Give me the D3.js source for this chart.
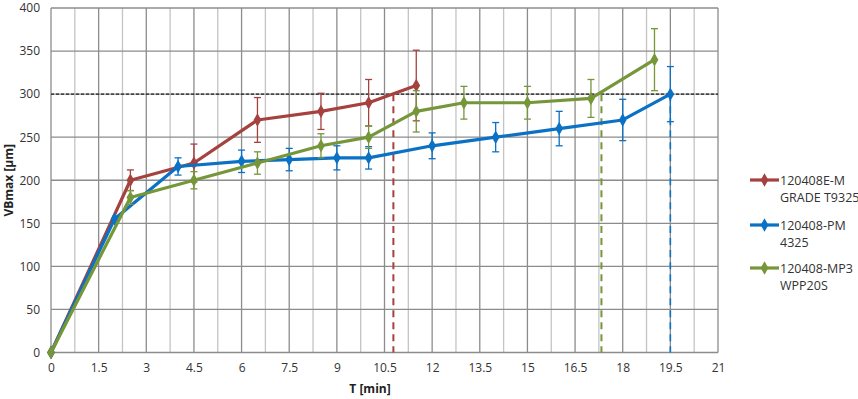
<!DOCTYPE html>
<html lang="en">
<head>
<meta charset="UTF-8">
<title>VBmax vs T</title>
<script src="https://d3js.org/d3.v7.min.js"></script>
<style>
    body { margin: 0; background: #fff; font-family: "Open Sans", Arial, sans-serif; }
    svg { display: block; }
</style>
</head>
<body>
<svg width="858" height="399"></svg>
<script>
// series data: T [min], VBmax [µm], error (±)
const redT   = [0, 2.5, 4.5, 6.5, 8.5, 10, 11.5];
const redVB  = [0, 200, 220, 270, 280, 290, 310];
const redErr = [0, 12, 22, 26, 21, 27, 41];

const blueT   = [0, 2, 4, 6, 7.5, 9, 10, 12, 14, 16, 18, 19.5];
const blueVB  = [0, 155, 216, 222, 224, 226, 226, 240, 250, 260, 270, 300];
const blueErr = [0, 0, 10, 13, 13, 14, 13, 15, 17, 20, 24, 32];

const greenT   = [0, 2.5, 4.5, 6.5, 8.5, 10, 11.5, 13, 15, 17, 19];
const greenVB  = [0, 180, 200, 220, 240, 250, 280, 290, 290, 295, 340];
const greenErr = [0, 8, 10, 13, 14, 13, 24, 19, 19, 22, 36];

const seriesNames = [["120408E-M", "GRADE T9325"], ["120408-PM", "4325"], ["120408-MP3", "WPP20S"]];
const seriesColors = ["#A5413E", "#0A71C4", "#76963A"];
const limitT = [10.78, 19.5, 17.33];   // where each curve reaches the limit
const limitVB = 300;

const xTicks = [0, 1.5, 3, 4.5, 6, 7.5, 9, 10.5, 12, 13.5, 15, 16.5, 18, 19.5, 21];
const yTicks = [0, 50, 100, 150, 200, 250, 300, 350, 400];

const svg = d3.select("svg");
const x = d3.scaleLinear().domain([0, 21]).range([51, 718]);
const y = d3.scaleLinear().domain([0, 400]).range([352.5, 8]);

// grid
const grid = svg.append("g");
d3.range(0, 21.01, 0.75).forEach((t, i) => {
    grid.append("line")
        .attr("x1", x(t)).attr("x2", x(t))
        .attr("y1", y(0)).attr("y2", y(400))
        .attr("stroke", i % 2 === 0 ? "#8c8c8c" : "#c4c4c4")
        .attr("stroke-width", 1.3);
});
yTicks.forEach(v => {
    grid.append("line")
        .attr("x1", x(0)).attr("x2", x(21))
        .attr("y1", y(v)).attr("y2", y(v))
        .attr("stroke", "#8c8c8c")
        .attr("stroke-width", 1.3);
});

// axes (labels only)
const xAxis = svg.append("g")
    .attr("transform", `translate(0,${y(0)})`)
    .call(d3.axisBottom(x).tickValues(xTicks).tickSize(0).tickPadding(11).tickFormat(d3.format("")));
const yAxis = svg.append("g")
    .attr("transform", `translate(${x(0)},0)`)
    .call(d3.axisLeft(y).tickValues(yTicks).tickSize(0).tickPadding(11));
[xAxis, yAxis].forEach(a => {
    a.select(".domain").remove();
    a.selectAll("text").attr("font-size", 12).attr("fill", "#333")
        .attr("font-family", "'Open Sans', Arial, sans-serif");
});

svg.append("text")
    .attr("x", 370).attr("y", 393)
    .attr("text-anchor", "middle")
    .attr("font-size", 12).attr("font-weight", "bold").attr("fill", "#222")
    .text("T [min]");
svg.append("text")
    .attr("transform", `translate(13,${(y(0) + y(400)) / 2}) rotate(-90)`)
    .attr("text-anchor", "middle")
    .attr("font-size", 12).attr("font-weight", "bold").attr("fill", "#222")
    .text("VBmax [µm]");

// limit line
svg.append("line")
    .attr("x1", x(0)).attr("x2", x(21))
    .attr("y1", y(limitVB)).attr("y2", y(limitVB))
    .attr("stroke", "#222").attr("stroke-width", 1.3)
    .attr("stroke-dasharray", "3,2");

// vertical drop lines
limitT.forEach((t, i) => {
    svg.append("line")
        .attr("x1", x(t)).attr("x2", x(t))
        .attr("y1", y(limitVB)).attr("y2", y(0))
        .attr("stroke", seriesColors[i]).attr("stroke-width", i === 1 ? 1.6 : 2)
        .attr("stroke-dasharray", "7,5");
});

const allSeries = [
    { t: redT, vb: redVB, err: redErr },
    { t: blueT, vb: blueVB, err: blueErr },
    { t: greenT, vb: greenVB, err: greenErr }
];
const line = d3.line().x(d => x(d.t)).y(d => y(d.vb));
const diamond = d3.symbol().type(d3.symbolDiamond).size(52);

allSeries.forEach((s, i) => {
    const pts = s.t.map((t, j) => ({ t: t, vb: s.vb[j], err: s.err[j] }));
    const g = svg.append("g");
    g.append("path")
        .datum(pts)
        .attr("d", line)
        .attr("fill", "none")
        .attr("stroke", seriesColors[i])
        .attr("stroke-width", 3.2)
        .attr("stroke-linejoin", "round");
    const eb = g.selectAll("g.err").data(pts.filter(d => d.err > 0)).enter().append("g");
    eb.append("line")
        .attr("x1", d => x(d.t)).attr("x2", d => x(d.t))
        .attr("y1", d => y(d.vb - d.err)).attr("y2", d => y(d.vb + d.err))
        .attr("stroke", seriesColors[i]).attr("stroke-width", 1.3);
    [-1, 1].forEach(sg => {
        eb.append("line")
            .attr("x1", d => x(d.t) - 3.5).attr("x2", d => x(d.t) + 3.5)
            .attr("y1", d => y(d.vb + sg * d.err)).attr("y2", d => y(d.vb + sg * d.err))
            .attr("stroke", seriesColors[i]).attr("stroke-width", 1.3);
    });
    g.selectAll("path.m").data(pts).enter().append("path")
        .attr("class", "m")
        .attr("d", diamond)
        .attr("transform", d => `translate(${x(d.t)},${y(d.vb)})`)
        .attr("fill", seriesColors[i]);
});

// legend
const legY = [180, 225, 268];
seriesNames.forEach((nm, i) => {
    const lg = svg.append("g").attr("transform", `translate(750,${legY[i]})`);
    lg.append("line").attr("x1", 0).attr("x2", 29).attr("y1", 0).attr("y2", 0)
        .attr("stroke", seriesColors[i]).attr("stroke-width", 3.2);
    lg.append("path").attr("d", diamond).attr("transform", "translate(14.5,0)")
        .attr("fill", seriesColors[i]);
    nm.forEach((txt, k) => {
        lg.append("text")
            .attr("x", 30).attr("y", 4.5 + k * 17)
            .attr("font-size", 12.5).attr("fill", "#333")
            .text(txt);
    });
});
</script>
</body>
</html>
